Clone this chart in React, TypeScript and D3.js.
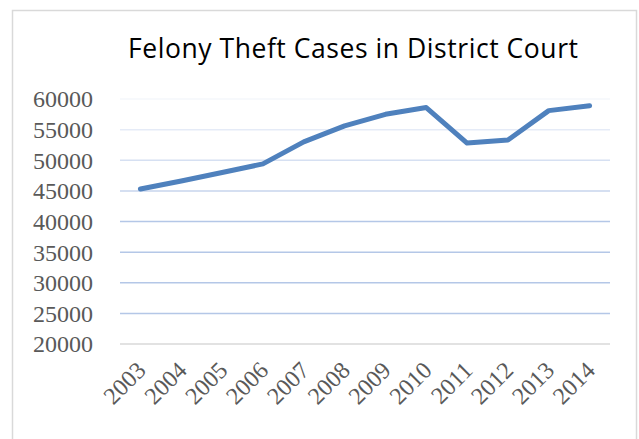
import React from 'react';
import * as d3 from 'd3';

const width = 639;
const height = 439;

const years = ['2003', '2004', '2005', '2006', '2007', '2008', '2009', '2010', '2011', '2012', '2013', '2014'];
const cases = [45300, 46600, 48000, 49400, 53000, 55600, 57500, 58600, 52800, 53300, 58100, 58900];
const yTicks = [20000, 25000, 30000, 35000, 40000, 45000, 50000, 55000, 60000];

const plotLeft = 120;
const plotRight = 610;
const plotTop = 99;
const plotBottom = 344;

const x = d3.scaleBand<string>().domain(years).range([plotLeft, plotRight]);
const y = d3.scaleLinear().domain([20000, 60000]).range([plotBottom, plotTop]);

// gridlines fade out towards the top like the original
const gridOpacity = (v: number) => (v >= 60000 ? 0.15 : v >= 55000 ? 0.35 : v >= 50000 ? 0.55 : v >= 45000 ? 0.75 : 1);

const line = d3
  .line<number>()
  .x((d, i) => (x(years[i]) as number) + x.bandwidth() / 2)
  .y(d => y(d));

const App = () => (
  <svg width={width} height={height} style={{ position: 'fixed', left: 0, top: 0, background: 'white' }}>
    <rect x={12.5} y={10.5} width={624} height={440} fill="white" stroke="#d9d9d9" strokeWidth={1.5} />
    <text
      x={128}
      y={58}
      textLength={450}
      fontFamily="'Open Sans', Lato, sans-serif"
      fontSize={26.5}
      fill="#000"
    >
      Felony Theft Cases in District Court
    </text>

    {yTicks.map(t => (
      <g key={t}>
        <line
          x1={plotLeft}
          x2={plotRight}
          y1={y(t)}
          y2={y(t)}
          stroke={t === 20000 ? '#d9d9d9' : '#b4c7e7'}
          strokeOpacity={t === 20000 ? 1 : gridOpacity(t)}
          strokeWidth={1.5}
        />
        <text
          x={93}
          y={y(t)}
          dy="0.35em"
          textAnchor="end"
          fontFamily="'Liberation Serif', serif"
          fontSize={24}
          fill="#595959"
        >
          {t}
        </text>
      </g>
    ))}

    {years.map(yr => {
      const cx = (x(yr) as number) + x.bandwidth() / 2;
      return (
        <text
          key={yr}
          transform={`translate(${cx - 5},${plotBottom + 16}) rotate(-45)`}
          textAnchor="end"
          dy="0.7em"
          fontFamily="'Liberation Serif', serif"
          fontSize={24}
          fill="#595959"
        >
          {yr}
        </text>
      );
    })}

    <path d={line(cases) || ''} fill="none" stroke="#4f81bd" strokeWidth={5} strokeLinejoin="round" strokeLinecap="round" />
  </svg>
);

export default App;
